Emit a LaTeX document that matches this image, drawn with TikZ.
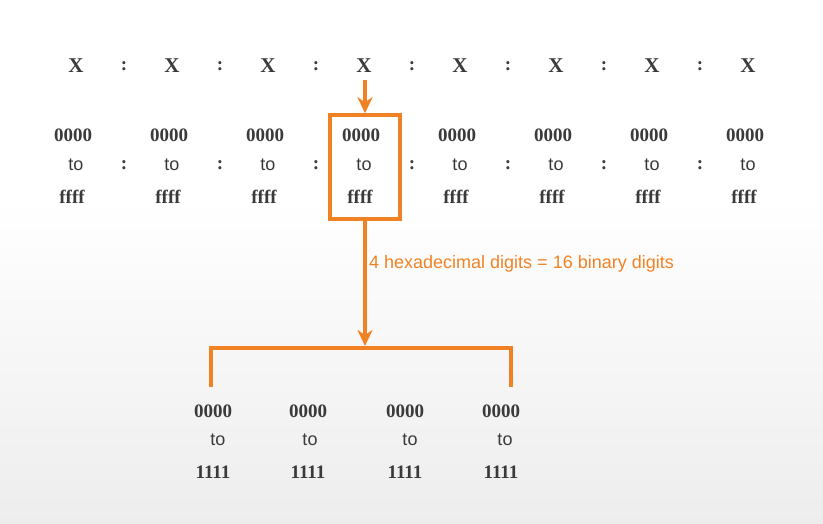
\documentclass[tikz,border=0pt]{standalone}
\usepackage{fontspec}
\setmainfont{Liberation Serif}
\setsansfont{Liberation Sans}
\usetikzlibrary{arrows.meta}
\definecolor{org}{HTML}{F08224}
\definecolor{txt}{HTML}{3A3A3A}
\begin{document}
\begin{tikzpicture}[x=1pt,y=-1pt,
 bnum/.style={font=\bfseries\fontsize{19}{19}\selectfont,text=txt,inner sep=0},
 tow/.style={font=\sffamily\fontsize{18}{18}\selectfont,text=txt,inner sep=0},
 col/.style={font=\bfseries\fontsize{19}{19}\selectfont,text=txt,inner sep=0},
 org line/.style={draw=org,line width=3.5pt},
 arr/.style={org line,-{Stealth[length=16pt,width=15pt,inset=5pt]}}]
\fill[white] (0,0) rectangle (823,523);
\shade[top color=white,bottom color=black!7] (0,200) rectangle (823,523);
\useasboundingbox (0,0) rectangle (823,523);
\foreach \i/\x in {1/76,2/172,3/268,4/364,5/460,6/556,7/652,8/748}{
 \node[bnum,font=\bfseries\fontsize{21}{21}\selectfont] (X\i) at (\x,66) {X};
 \node[bnum] (z\i) at (\x-3,135) {0000};
 \node[tow] (t\i) at (\x,165) {to};
 \node[bnum] (f\i) at (\x-4,197) {ffff};
}
\foreach \x in {124,220,316,412,508,604,700}{
 \node[col] (ca\x) at (\x,66) {:};
 \node[col] (cb\x) at (\x,165) {:};
}
\node[org line,fill=none,minimum width=70pt,minimum height=104pt,inner sep=0] (box) at (365,167) {};
\draw[arr] (365,80) -- (box.north);
\coordinate (bt) at (365,346);
\draw[arr] (box.south) -- (bt);
\node[anchor=west,font=\sffamily\fontsize{18}{18}\selectfont,text=org,inner sep=0] (lab) at (369,264) {4 hexadecimal digits = 16 binary digits};
\coordinate (bl) at (211,387); \coordinate (br) at (511,387);
\draw[org line] (bl) -- (211,348) -- (511,348) -- (br);
\foreach \i/\x/\tx in {1/213/218,2/308/310,3/405/410,4/501/505}{
 \node[bnum] (b\i) at (\x,411) {0000};
 \node[tow] (bt\i) at (\tx,440) {to};
 \node[bnum] (o\i) at (\x,472) {1111};
}
\end{tikzpicture}
\end{document}
